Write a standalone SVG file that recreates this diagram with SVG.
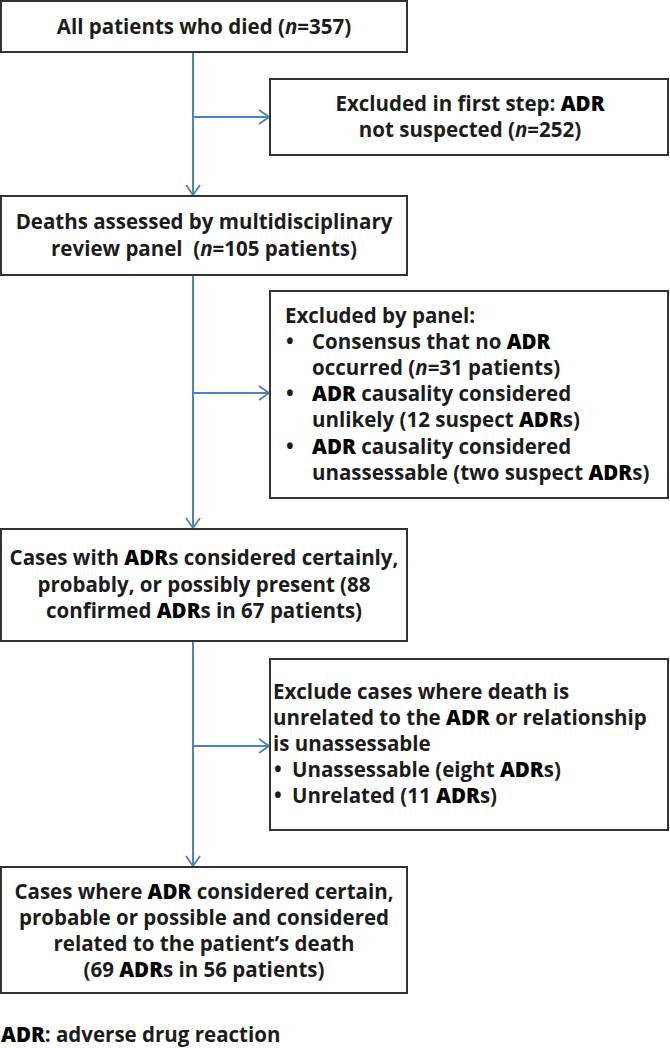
<svg xmlns="http://www.w3.org/2000/svg" width="670" height="1048" viewBox="0 0 670 1048">
<style>
.box{fill:#fff;stroke:#333;stroke-width:2}
.t{font-family:"Open Sans","Liberation Sans",sans-serif;font-size:20.5px;font-weight:700;fill:#1c1c1c}
.c{text-anchor:middle}
.b{font-weight:800;fill:#000}
.i{font-style:italic}
.con{stroke:#4f81bd;stroke-width:2;fill:none}
</style>
<defs>
<marker id="ah" viewBox="0 0 12 16" refX="11" refY="8" markerWidth="12" markerHeight="16" markerUnits="userSpaceOnUse" orient="auto">
<path d="M1,1 L11,8 L1,15" fill="none" stroke="#4f81bd" stroke-width="1.8"/>
</marker>
</defs>
<g id="connectors">
<line class="con" x1="193" y1="52" x2="193" y2="195" marker-end="url(#ah)"/>
<line class="con" x1="193" y1="117" x2="269" y2="117" marker-end="url(#ah)"/>
<line class="con" x1="193" y1="275" x2="193" y2="528" marker-end="url(#ah)"/>
<line class="con" x1="193" y1="393" x2="269" y2="393" marker-end="url(#ah)"/>
<line class="con" x1="193" y1="641" x2="193" y2="866" marker-end="url(#ah)"/>
<line class="con" x1="193" y1="746" x2="269" y2="746" marker-end="url(#ah)"/>
</g>
<g id="n1">
<rect class="box" x="1" y="1" width="406" height="51"/>
<text class="t c" x="204" y="34">All patients who died (<tspan class="i">n</tspan>=357)</text>
</g>
<g id="n2">
<rect class="box" x="270" y="79" width="398" height="76"/>
<text class="t c" x="470" y="111">Excluded in first step: <tspan class="b">ADR</tspan></text>
<text class="t c" x="470" y="137">not suspected (<tspan class="i">n</tspan>=252)</text>
</g>
<g id="n3">
<rect class="box" x="1" y="196" width="406" height="79"/>
<text class="t c" x="204" y="229">Deaths assessed by multidisciplinary</text>
<text class="t c" x="204" y="256" xml:space="preserve">review panel  (<tspan class="i">n</tspan>=105 patients)</text>
</g>
<g id="n4">
<rect class="box" x="270" y="291" width="398" height="207"/>
<text class="t" x="285" y="323">Excluded by panel:</text>
<text class="t" x="286" y="349">•</text>
<text class="t" x="312" y="349">Consensus that no <tspan class="b">ADR</tspan></text>
<text class="t" x="312" y="375">occurred (<tspan class="i">n</tspan>=31 patients)</text>
<text class="t" x="286" y="401">•</text>
<text class="t" x="312" y="401"><tspan class="b">ADR</tspan> causality considered</text>
<text class="t" x="312" y="427">unlikely (12 suspect <tspan class="b">ADR</tspan>s)</text>
<text class="t" x="286" y="454">•</text>
<text class="t" x="312" y="454"><tspan class="b">ADR</tspan> causality considered</text>
<text class="t" x="312" y="480">unassessable (two suspect <tspan class="b">ADR</tspan>s)</text>
</g>
<g id="n5">
<rect class="box" x="1" y="529" width="406" height="112"/>
<text class="t c" x="204" y="565">Cases with <tspan class="b">ADR</tspan>s considered certainly,</text>
<text class="t c" x="204" y="592">probably, or possibly present (88</text>
<text class="t c" x="204" y="618">confirmed <tspan class="b">ADR</tspan>s in 67 patients)</text>
</g>
<g id="n6">
<rect class="box" x="270" y="659" width="398" height="171"/>
<text class="t" x="273" y="699">Exclude cases where death is</text>
<text class="t" x="273" y="725">unrelated to the <tspan class="b">ADR</tspan> or relationship</text>
<text class="t" x="273" y="751">is unassessable</text>
<text class="t" x="274" y="777">•</text>
<text class="t" x="292" y="777">Unassessable (eight <tspan class="b">ADR</tspan>s)</text>
<text class="t" x="274" y="803">•</text>
<text class="t" x="292" y="803">Unrelated (11 <tspan class="b">ADR</tspan>s)</text>
</g>
<g id="n7">
<rect class="box" x="1" y="867" width="406" height="126"/>
<text class="t c" x="204" y="899">Cases where <tspan class="b">ADR</tspan> considered certain,</text>
<text class="t c" x="204" y="925">probable or possible and considered</text>
<text class="t c" x="204" y="951">related to the patient’s death</text>
<text class="t c" x="204" y="977">(69 <tspan class="b">ADR</tspan>s in 56 patients)</text>
</g>
<g id="footer">
<text class="t" x="1" y="1042"><tspan class="b">ADR</tspan>: adverse drug reaction</text>
</g>
</svg>
